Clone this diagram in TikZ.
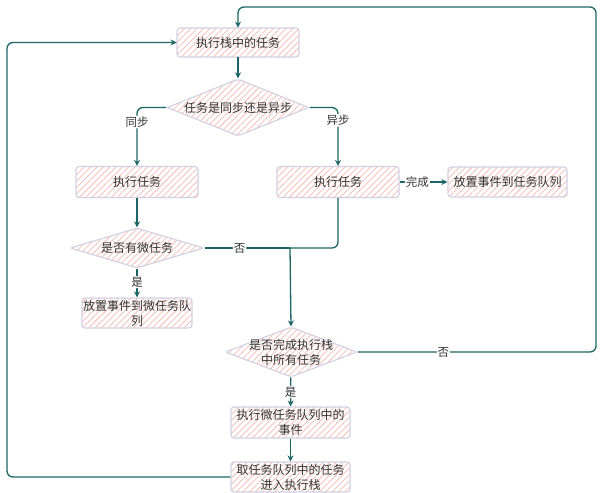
\documentclass[tikz,border=0pt]{standalone}
\usepackage{fontspec}
\setmainfont{Noto Sans CJK SC}
\usetikzlibrary{arrows.meta,positioning,calc,shapes.geometric,patterns.meta}
\definecolor{hatch}{HTML}{F7C4BD}
\definecolor{rim}{HTML}{D2CFE4}
\definecolor{flowc}{HTML}{1B6566}
\definecolor{ink}{HTML}{333333}

\begin{document}
\begin{tikzpicture}[
  x=1pt, y=-1pt,
  >={Stealth[length=6pt,width=6pt,open]},
  font=\fontsize{12}{15}\selectfont,
  task/.style={rectangle, draw=rim, line width=1.1pt, rounded corners=3pt,
               pattern={Lines[angle=45,distance=4.5pt,line width=0.9pt]},
               pattern color=hatch, align=center, inner sep=0pt, text=ink},
  choice/.style={task, diamond, rounded corners=2pt},
  flow/.style={draw=flowc, line width=1.3pt, rounded corners=6pt},
  lab/.style={font=\fontsize{11.5}{14}\selectfont, fill=white, inner sep=1pt, text=ink}
]
\useasboundingbox (0,0) rectangle (606,493);

% ---------- Boxes ----------
\node[task, minimum width=122pt, minimum height=29pt] (TS)   at (238,42.5)  {执行栈中的任务};
\node[task, minimum width=122pt, minimum height=31pt] (EXS)  at (137,182)   {执行任务};
\node[task, minimum width=122pt, minimum height=31pt] (EXA)  at (338,182)   {执行任务};
\node[task, minimum width=119pt, minimum height=30pt] (TQ)   at (507.5,182) {放置事件到任务队列};
\node[task, minimum width=110pt, minimum height=30pt] (MQ)   at (137,313)   {放置事件到微任务队\\列};
\node[task, minimum width=119pt, minimum height=31pt] (RUN)  at (290.5,422.5) {执行微任务队列中的\\事件};
\node[task, minimum width=119pt, minimum height=30pt] (TAKE) at (290.5,477) {取任务队列中的任务\\进入执行栈};

% ---------- Decisions ----------
\node[choice, aspect=2.49, minimum width=142pt, minimum height=57pt] (SYN) at (238,107.5) {任务是同步还是异步};
\node[choice, aspect=3.35, minimum width=134pt, minimum height=40pt] (MIC) at (137,248)   {是否有微任务};
\node[choice, aspect=2.64, inner sep=-6pt, minimum width=132pt, minimum height=50pt] (DONE) at (291,352) {是否完成执行栈\\中所有任务};

\coordinate (join) at (290,248);

% ---------- Connectors ----------
\draw[flow,->] (TS) -- (SYN);
\draw[flow,->] (SYN.west) -| node[lab, pos=0.625] {同步} (EXS.north);
\draw[flow,->] (SYN.east) -| node[lab, pos=0.61] {异步} (EXA.north);
\draw[flow,->] (EXA) -- node[lab, pos=0.37] {完成} (TQ);
\draw[flow,->] (EXS) -- (MIC);
\draw[flow,->] (MIC) -- node[lab, pos=0.47] {是} (MQ);
\draw[flow] (MIC.east) -- node[lab, pos=0.41] {否} (join);
\draw[flow] (EXA.south) |- (join);
\draw[flow,->] (join) -- (DONE.north);
\draw[flow,->] (DONE) -- node[lab] {是} (RUN);
\draw[flow,->] (RUN) -- (TAKE);

% ---------- Loops ----------
\draw[flow,->] (DONE.east) -- node[lab, pos=0.36] {否} (596,352) -- (596,7) -| (TS.north);
\draw[flow,->] (TAKE.west) -- (7,477) -- (7,42.5) -- (TS.west);

\end{tikzpicture}
\end{document}
